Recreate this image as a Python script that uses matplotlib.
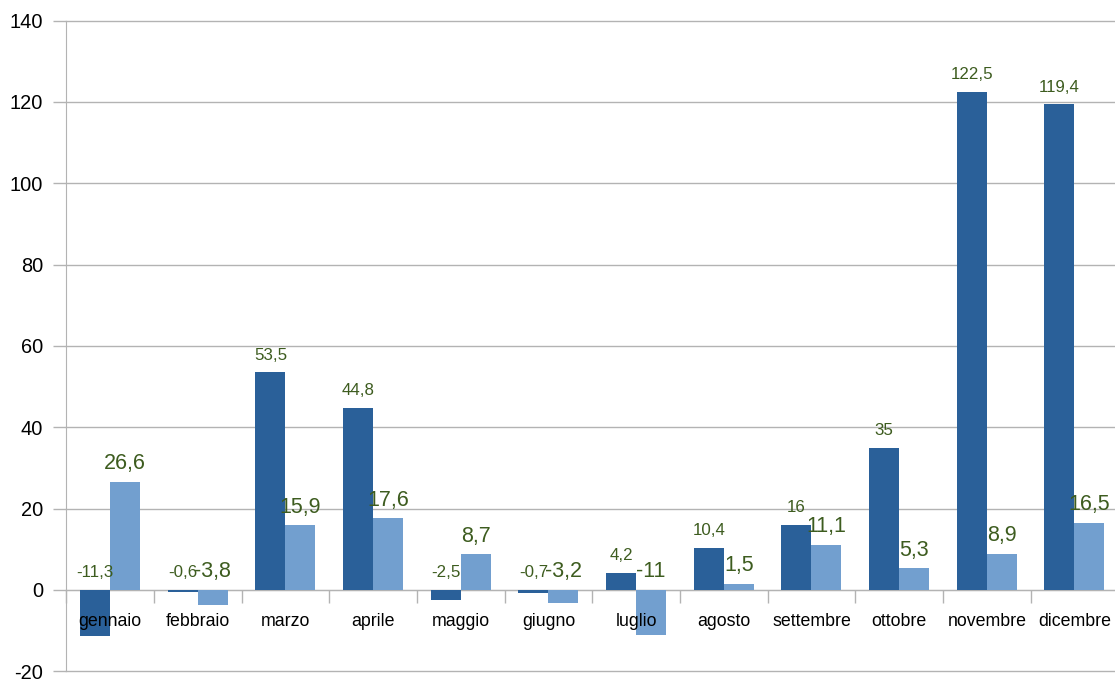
import matplotlib.pyplot as plt
import numpy as np

months = ["gennaio", "febbraio", "marzo", "aprile", "maggio", "giugno",
          "luglio", "agosto", "settembre", "ottobre", "novembre", "dicembre"]
serie_a = [-11.3, -0.6, 53.5, 44.8, -2.5, -0.7, 4.2, 10.4, 16, 35, 122.5, 119.4]
serie_b = [26.6, -3.8, 15.9, 17.6, 8.7, -3.2, -11, 1.5, 11.1, 5.3, 8.9, 16.5]
y_ticks = [-20, 0, 20, 40, 60, 80, 100, 120, 140]

dark = "#2a6099"
light = "#729fcf"
label_col = "#3d5c1f"
grid_col = "#b3b3b3"

plt.rcParams['font.family'] = ['Liberation Sans', 'DejaVu Sans']


def fmt(v):
    if float(v).is_integer():
        return str(int(v))
    return f"{v}".replace(".", ",")


fig = plt.figure(figsize=(11.15, 6.79), dpi=100)
ax = fig.add_axes([66.3 / 1115, 1 - 671.2 / 679, 1052 / 1115, 650.7 / 679])

x = np.arange(len(months))
w = 0.342
ax.bar(x - w / 2, serie_a, w, color=dark, zorder=2)
ax.bar(x + w / 2, serie_b, w, color=light, zorder=2)

# data labels sit above the bar, or above zero for negative bars
for xi, va_, vb_ in zip(x, serie_a, serie_b):
    ax.annotate(fmt(va_), (xi - w / 2, max(va_, 0)), xytext=(0, 9),
                textcoords="offset points", ha="center", va="baseline",
                color=label_col, fontsize=12.2, zorder=5)
    ax.annotate(fmt(vb_), (xi + w / 2, max(vb_, 0)), xytext=(0, 9),
                textcoords="offset points", ha="center", va="baseline",
                color=label_col, fontsize=15.5, zorder=5)

# category names just under the zero line, on top of bars
for xi, m in zip(x, months):
    ax.annotate(m, (xi, 0), xytext=(0, -23), textcoords="offset points",
                ha="center", va="center", fontsize=12.8, color="black", zorder=6)

ax.set_xlim(-0.5, len(months) - 0.5)
ax.set_ylim(-20, 140)
ax.set_yticks(y_ticks)
ax.set_yticklabels([str(t) for t in y_ticks], fontsize=14.4)

ax.set_xticks([])
ax.set_xticks(np.arange(-0.5, len(months)), minor=True)
ax.tick_params(axis="x", which="minor", length=9.4, color=grid_col, width=1)
ax.tick_params(axis="y", length=9.6, color=grid_col, width=1, pad=7)

ax.set_axisbelow(True)
ax.grid(axis="y", color=grid_col, linewidth=1)
for gl in ax.get_ygridlines():
    gl.set_clip_on(False)

ax.spines["top"].set_visible(False)
ax.spines["right"].set_visible(False)
ax.spines["bottom"].set_position(("data", 0))
ax.spines["bottom"].set_color(grid_col)
ax.spines["left"].set_color(grid_col)
ax.spines["bottom"].set_zorder(0.5)
ax.spines["left"].set_zorder(0.5)

fig.savefig("out.png", dpi=100)
